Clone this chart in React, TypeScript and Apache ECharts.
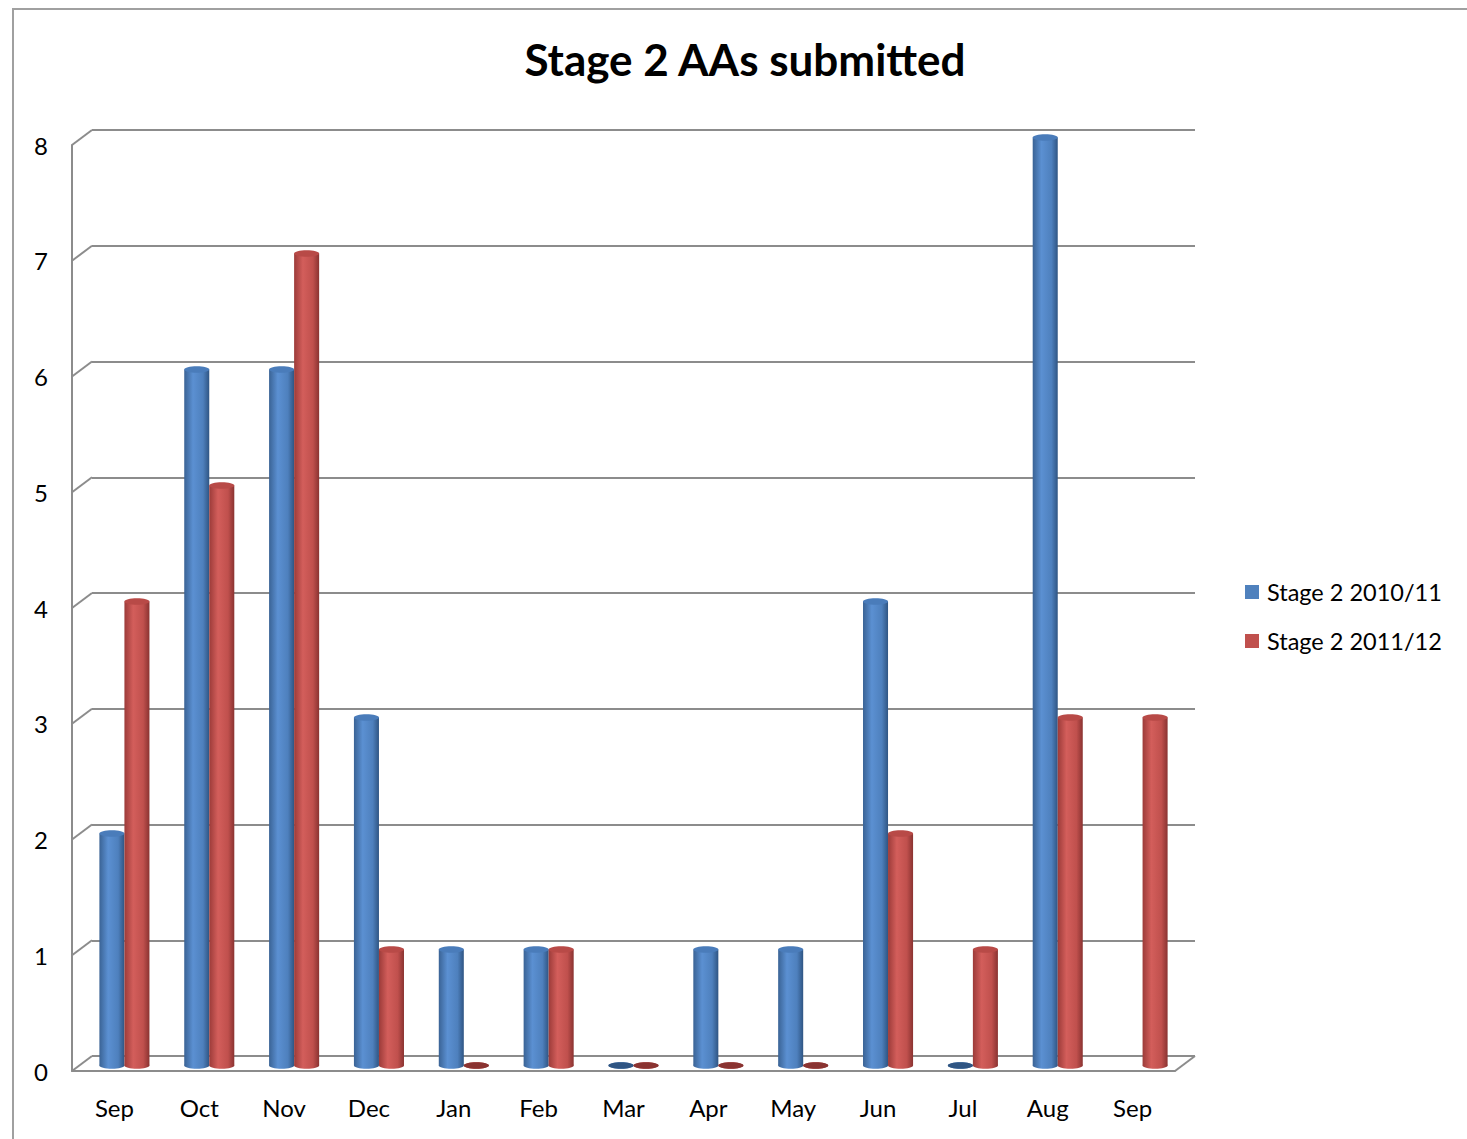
import React, { useEffect, useRef } from "react";
import * as echarts from "echarts";

const categories = ["Sep", "Oct", "Nov", "Dec", "Jan", "Feb", "Mar", "Apr", "May", "Jun", "Jul", "Aug", "Sep"];
const series2010: (number | null)[] = [2, 6, 6, 3, 1, 1, 0, 1, 1, 4, 0, 8, null];
const series2011: (number | null)[] = [4, 5, 7, 1, 0, 1, 0, 0, 0, 2, 1, 3, 3];
const yTicks = [0, 1, 2, 3, 4, 5, 6, 7, 8];

const seriesNames = ["Stage 2 2010/11", "Stage 2 2011/12"];

// chart geometry (3D depth offset)
const DX = 20;
const DY = 15;
const FRONT = { left: 72, right: 292, top: 145, bottom: 68 };

const FONT = "Lato, 'Open Sans', sans-serif";
const GRID_COLOR = "#8c8c8c";

const palettes = [
  {
    legend: "#4f81bd",
    stops: ["#3a6395", "#5b90d2", "#4e80bd", "#2f5583"],
    cap: "#4a7cba",
  },
  {
    legend: "#c0504d",
    stops: ["#9c3b39", "#d35e5b", "#c0504d", "#8a3331"],
    cap: "#b84a47",
  },
];

function makeBarSeries(values: (number | null)[], idx: number) {
  const pal = palettes[idx];
  const offset = idx === 0 ? -0.5 : 0.5;
  const data = values
    .map((v, i) => (v == null ? null : [i, v]))
    .filter((d) => d !== null);
  return {
    type: "custom",
    name: seriesNames[idx],
    xAxisIndex: 2,
    yAxisIndex: 2,
    z: 10,
    itemStyle: { color: pal.legend },
    data,
    renderItem: (params: any, api: any) => {
      const ci = api.value(0);
      const v = api.value(1);
      const base = api.coord([ci, 0]);
      const top = api.coord([ci, v]);
      const band = api.size([1, 0])[0];
      const w = band * 0.295;
      const cx = base[0] + offset * w;
      const ry = w * 0.13;
      const grad = () =>
        new echarts.graphic.LinearGradient(0, 0, 1, 0, [
          { offset: 0, color: pal.stops[0] },
          { offset: 0.35, color: pal.stops[1] },
          { offset: 0.75, color: pal.stops[2] },
          { offset: 1, color: pal.stops[3] },
        ]);
      const children: any[] = [
        {
          type: "ellipse",
          shape: { cx, cy: base[1], rx: w / 2, ry },
          style: { fill: grad() },
        },
      ];
      if (base[1] - top[1] > 0.5) {
        children.push({
          type: "rect",
          shape: { x: cx - w / 2, y: top[1], width: w, height: base[1] - top[1] },
          style: { fill: grad() },
        });
      }
      children.push({
        type: "ellipse",
        shape: { cx, cy: top[1], rx: w / 2, ry },
        style: { fill: v === 0 ? pal.stops[3] : pal.cap },
      });
      return { type: "group", children };
    },
  };
}

export default function App() {
  const ref = useRef<HTMLDivElement>(null);

  useEffect(() => {
    if (!ref.current) return;
    const chart = echarts.init(ref.current, null, { renderer: "svg" });

    const backGrid = {
      left: FRONT.left + DX,
      right: FRONT.right - DX,
      top: FRONT.top - DY,
      bottom: FRONT.bottom + DY,
    };
    const midGrid = {
      left: FRONT.left + DX / 2,
      right: FRONT.right - DX / 2,
      top: FRONT.top - DY / 2,
      bottom: FRONT.bottom + DY / 2 - 2,
    };

    const yBase = { type: "value", min: 0, max: 8, interval: 1 };

    const option: any = {
      animation: false,
      backgroundColor: "#ffffff",
      title: {
        text: "Stage 2 AAs submitted",
        left: 740,
        top: 32,
        textAlign: "center",
        textStyle: { fontFamily: FONT, fontSize: 44, fontWeight: "bold", color: "#000" },
      },
      legend: {
        orient: "vertical",
        left: 1245,
        top: 580,
        padding: 0,
        icon: "rect",
        itemWidth: 14,
        itemHeight: 14,
        itemGap: 25,
        textStyle: { fontFamily: FONT, fontSize: 23.5, color: "#000", padding: [0, 0, 0, 3] },
        data: [
          { name: seriesNames[0], itemStyle: { color: palettes[0].legend } },
          { name: seriesNames[1], itemStyle: { color: palettes[1].legend } },
        ],
      },
      grid: [
        { ...FRONT },
        { ...backGrid },
        { ...midGrid },
      ],
      xAxis: [
        {
          type: "category",
          gridIndex: 0,
          data: categories,
          axisLine: { show: true, lineStyle: { color: GRID_COLOR, width: 2 } },
          axisTick: { show: false },
          axisLabel: { fontFamily: FONT, fontSize: 24, color: "#000", margin: 24 },
          splitLine: { show: false },
        },
        {
          type: "category",
          gridIndex: 1,
          data: categories,
          show: false,
        },
        {
          type: "category",
          gridIndex: 2,
          data: categories,
          show: false,
        },
      ],
      yAxis: [
        {
          ...yBase,
          gridIndex: 0,
          axisLine: { show: true, lineStyle: { color: GRID_COLOR, width: 2 } },
          axisTick: { show: false },
          axisLabel: { fontFamily: FONT, fontSize: 24, color: "#000", margin: 24 },
          splitLine: { show: false },
        },
        {
          ...yBase,
          gridIndex: 1,
          axisLine: { show: false },
          axisTick: { show: false },
          axisLabel: { show: false },
          splitLine: { show: true, lineStyle: { color: GRID_COLOR, width: 2 } },
        },
        {
          ...yBase,
          gridIndex: 2,
          show: false,
        },
      ],
      series: [
        {
          type: "custom",
          name: "depth",
          xAxisIndex: 0,
          yAxisIndex: 0,
          silent: true,
          z: 1,
          data: yTicks.map((t) => [0, t]),
          renderItem: (params: any, api: any) => {
            const cs = params.coordSys;
            const y = api.coord([0, api.value(1)])[1];
            const children: any[] = [
              {
                type: "line",
                shape: { x1: cs.x, y1: y, x2: cs.x + DX, y2: y - DY },
                style: { stroke: GRID_COLOR, lineWidth: 2 },
              },
            ];
            if (api.value(1) === 0) {
              children.push({
                type: "line",
                shape: { x1: cs.x + cs.width, y1: y, x2: cs.x + cs.width + DX, y2: y - DY },
                style: { stroke: GRID_COLOR, lineWidth: 2 },
              });
            }
            return { type: "group", children };
          },
        },
        makeBarSeries(series2010, 0),
        makeBarSeries(series2011, 1),
      ],
      graphic: [
        {
          type: "rect",
          shape: { x: 13, y: 9, width: 1470, height: 1140 },
          style: { fill: "none", stroke: "#a0a0a0", lineWidth: 2 },
          silent: true,
        },
      ],
    };

    chart.setOption(option);
    return () => chart.dispose();
  }, []);

  return <div ref={ref} style={{ width: 1467, height: 1139, position: "absolute", left: 0, top: 0 }} />;
}
